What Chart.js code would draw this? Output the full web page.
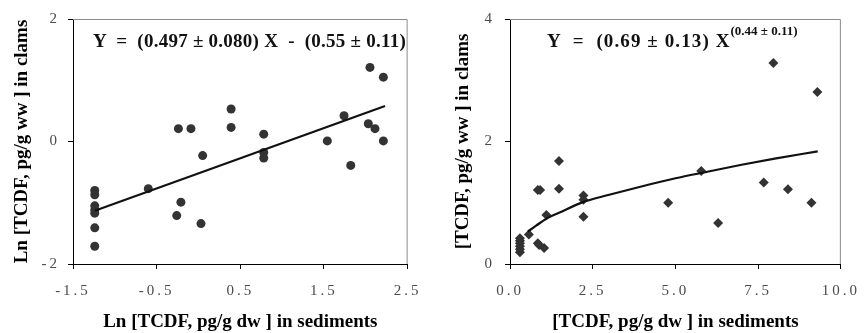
<!DOCTYPE html>
<html>
<head>
<meta charset="utf-8">
<script src="https://cdn.jsdelivr.net/npm/chart.js@4.4.1/dist/chart.umd.min.js"></script>
<style>
  html, body { margin: 0; padding: 0; background: #fff; }
  #wrap { position: relative; width: 867px; height: 333px; overflow: hidden; }
  .box { position: absolute; top: 0; }
  .eq { position: absolute; font-family: "Liberation Serif", "Times New Roman", serif; font-weight: bold; font-size: 19px; color: #111; white-space: pre; line-height: 1; }
  .eq sup { font-size: 13px; letter-spacing: 0; position: relative; top: -5px; vertical-align: super; line-height: 0; }
</style>
</head>
<body>
<div id="wrap">
  <div class="box" style="left:0;width:430px;height:333px"><canvas id="c1" width="430" height="333"></canvas></div>
  <div class="box" style="left:430px;width:437px;height:333px"><canvas id="c2" width="437" height="333"></canvas></div>
  <div class="eq" id="eq1" style="left:93px;top:31px;letter-spacing:0.25px">Y  =  (0.497 ± 0.080) X  -  (0.55 ± 0.11)</div>
  <div class="eq" id="eq2" style="left:547px;top:31px;letter-spacing:1.1px">Y  =  (0.69 ± 0.13) X<sup>(0.44 ± 0.11)</sup></div>
</div>
<script>
// ---- Left panel: Ln-transformed data ----
const leftX = [-1.24,-1.24,-1.24,-1.24,-1.24,-1.24,-1.24,-0.60,-0.24,-0.09,-0.26,-0.21,0.03,0.05,0.39,0.39,0.78,0.78,0.78,1.54,1.74,1.82,2.05,2.21,2.03,2.11,2.21];
const leftY = [-0.80,-0.87,-1.05,-1.12,-1.17,-1.41,-1.71,-0.77,0.21,0.21,-1.21,-0.99,-1.34,-0.23,0.53,0.23,0.12,-0.18,-0.27,0.01,0.42,-0.39,1.21,1.05,0.29,0.21,0.01];
const leftFitX = [-1.24, 2.23];
const leftFitY = [-1.13, 0.58];
const leftXTicks = [-1.5, -0.5, 0.5, 1.5, 2.5];
const leftYTicks = [-2, 0, 2];

// ---- Right panel: raw data ----
const rightX = [0.30,0.30,0.30,0.30,0.30,0.30,0.57,0.84,0.91,0.84,0.88,1.03,1.10,1.48,1.48,2.22,2.22,2.22,4.78,5.78,6.29,7.67,7.96,8.40,9.11,9.29];
const rightY = [0.19,0.24,0.29,0.34,0.38,0.42,0.48,1.21,1.21,0.34,0.31,0.26,0.80,1.68,1.23,1.12,1.05,0.77,1.00,1.52,0.67,1.33,3.28,1.22,1.00,2.81];
const rightFitX = [0.54, 0.8, 1.1, 1.5, 2.2, 3.0, 4.0, 5.0, 6.0, 7.0, 8.0, 9.3];
const rightFitY = [0.53, 0.63, 0.74, 0.84, 1.01, 1.13, 1.27, 1.40, 1.51, 1.62, 1.72, 1.84];
const rightXTicks = [0, 2.5, 5, 7.5, 10];
const rightYTicks = [0, 2, 4];

const pts = (xs, ys) => xs.map((x, i) => ({x: x, y: ys[i]}));

const tickFont = {family: '"Liberation Serif", "Times New Roman", serif', size: 15};
const titleFont = {family: '"Liberation Serif", "Times New Roman", serif', size: 19, weight: 'bold', lineHeight: 1.0};

const framePlugin = {
  id: 'frame',
  afterDatasetsDraw(chart) {
    const {ctx, chartArea: a} = chart;
    ctx.save();
    ctx.strokeStyle = '#8c8c8c';
    ctx.lineWidth = 1;
    ctx.beginPath();
    ctx.moveTo(a.left, a.top + 0.5);
    ctx.lineTo(a.right - 0.5, a.top + 0.5);
    ctx.lineTo(a.right - 0.5, a.bottom);
    ctx.stroke();
    ctx.restore();
    ctx.letterSpacing = '3px';
  },
  afterDraw(chart) {
    chart.ctx.letterSpacing = '0px';
  }
};

function makeChart(id, cfg) {
  return new Chart(document.getElementById(id), {
    type: 'scatter',
    data: {
      datasets: [
        {
          type: 'line',
          data: pts(cfg.fitX, cfg.fitY),
          borderColor: '#111',
          borderWidth: 2.2,
          pointRadius: 0,
          fill: false,
          tension: 0.4,
          cubicInterpolationMode: 'monotone',
          order: 1
        },
        {
          data: pts(cfg.x, cfg.y),
          backgroundColor: '#333',
          borderColor: '#333',
          borderWidth: 0,
          pointStyle: cfg.pointStyle,
          pointRadius: cfg.pointRadius,
          order: 2
        }
      ]
    },
    options: {
      responsive: false,
      animation: false,
      events: [],
      layout: {padding: {top: 19, right: cfg.padRight, left: 0, bottom: 0}},
      plugins: {legend: {display: false}, tooltip: {enabled: false}},
      scales: {
        x: {
          type: 'linear',
          min: cfg.xTicks[0],
          max: cfg.xTicks[cfg.xTicks.length - 1],
          afterBuildTicks: s => { s.ticks = cfg.xTicks.map(v => ({value: v})); },
          afterFit: s => { s.height = 69; },
          grid: {display: true, drawOnChartArea: false, drawTicks: true, tickLength: 5, color: '#000'},
          border: {display: true, color: '#000', width: 1},
          ticks: {font: tickFont, color: '#4a4a4a', padding: 13, z: 1, maxRotation: 0,
                  callback: v => cfg.xFmt(v)},
          title: {display: true, text: cfg.xTitle, font: titleFont, color: '#000', padding: {top: 0, bottom: 1}}
        },
        y: {
          type: 'linear',
          min: cfg.yTicks[0],
          max: cfg.yTicks[cfg.yTicks.length - 1],
          afterBuildTicks: s => { s.ticks = cfg.yTicks.map(v => ({value: v})); },
          afterFit: s => { s.width = cfg.yWidth; },
          grid: {display: true, drawOnChartArea: false, drawTicks: true, tickLength: 5, color: '#000'},
          border: {display: true, color: '#000', width: 1},
          ticks: {font: tickFont, color: '#4a4a4a', padding: cfg.yTickPad, z: 1,
                  callback: v => String(v)},
          title: {display: true, text: cfg.yTitle, font: titleFont, color: '#000', padding: {top: cfg.yTitlePad, bottom: 0}}
        }
      }
    },
    plugins: [framePlugin]
  });
}

makeChart('c1', {
  x: leftX, y: leftY, fitX: leftFitX, fitY: leftFitY,
  xTicks: leftXTicks, yTicks: leftYTicks,
  xFmt: v => String(v),
  xTitle: 'Ln [TCDF, pg/g dw ] in sediments',
  yTitle: 'Ln [TCDF, pg/g ww ] in clams',
  pointStyle: 'circle', pointRadius: 4.5,
  padRight: 18, yWidth: 73, yTickPad: 8, yTitlePad: 13
});

makeChart('c2', {
  x: rightX, y: rightY, fitX: rightFitX, fitY: rightFitY,
  xTicks: rightXTicks, yTicks: rightYTicks,
  xFmt: v => v.toFixed(1),
  xTitle: '[TCDF, pg/g dw ] in sediments',
  yTitle: '[TCDF, pg/g ww ] in clams',
  pointStyle: 'rectRot', pointRadius: 5,
  padRight: 19, yWidth: 80, yTickPad: 10, yTitlePad: 24
});
</script>
</body>
</html>
